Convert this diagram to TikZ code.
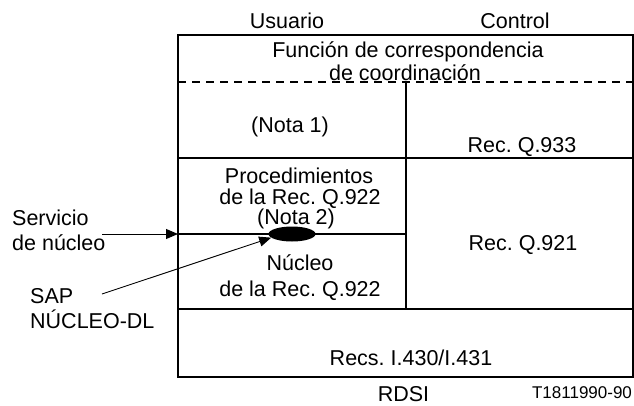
\documentclass[tikz,border=0pt]{standalone}
\usepackage{fontspec}
\setmainfont{Liberation Sans}
\usetikzlibrary{arrows.meta,shapes.geometric}
\begin{document}
\frenchspacing
\begin{tikzpicture}[x=1pt,y=-1pt,
  txt/.style={font=\fontsize{21.5}{21.5}\selectfont, inner sep=0pt, anchor=base},
  txtl/.style={txt, anchor=base west},
  small/.style={font=\fontsize{17}{17}\selectfont, inner sep=0pt, anchor=base},
  frame/.style={line width=1.3pt},
  conn/.style={line width=0.9pt, -{Triangle[length=12pt,width=10pt]}},
]
\useasboundingbox (0,0) rectangle (634,405);
% frame
\draw[frame] (178,35) rectangle (633,377);
\draw[frame, dash pattern=on 8pt off 6pt] (178,82) -- (633,82);
\draw[frame] (406,82) -- (406,309);
\draw[frame] (178,158) -- (633,158);
\draw[frame] (178,234) -- (406,234);
\draw[frame] (178,309) -- (633,309);
% headings
\node[txt] (usr) at (287,28) {Usuario};
\node[txt] (ctl) at (515,28) {Control};
\node[txt] (fun1) at (408,57) {Función de correspondencia};
\node[txt] (fun2) at (405,80) {de coordinación};
\node[txt] (n1) at (290,132) {(Nota 1)};
\node[txt] (q933) at (522,152) {Rec. Q.933};
\node[txt] (proc1) at (299,183) {Procedimientos};
\node[txt] (proc2) at (300,204) {de la Rec. Q.922};
\node[txt] (proc3) at (296,224) {(Nota 2)};
\node[txt] (nuc1) at (300,270) {Núcleo};
\node[txt] (nuc2) at (300,296) {de la Rec. Q.922};
\node[txt] (q921) at (523,250) {Rec. Q.921};
\node[txt] (i430) at (411,365) {Recs. I.430/I.431};
\node[txt] (rdsi) at (403.5,401) {RDSI};
\node[small] (tnum) at (582,398) {T1811990-90};
% left labels
\node[txtl] (svc1) at (12,225) {Servicio};
\node[txtl] (svc2) at (12,250) {de núcleo};
\node[txtl] (sap1) at (30,303) {SAP};
\node[txtl] (sap2) at (30,328) {NÚCLEO-DL};
% ellipse SAP
\node[ellipse, fill=black, minimum width=47pt, minimum height=15pt, inner sep=0pt] (ell) at (292,234) {};
% connectors
\coordinate (svcstart) at (102,234);
\coordinate (boxin) at (178,234);
\coordinate (sapstart) at (102,294);
\draw[conn] (svcstart) -- (boxin);
\draw[conn] (sapstart) -- (ell.190);
\end{tikzpicture}
\end{document}
